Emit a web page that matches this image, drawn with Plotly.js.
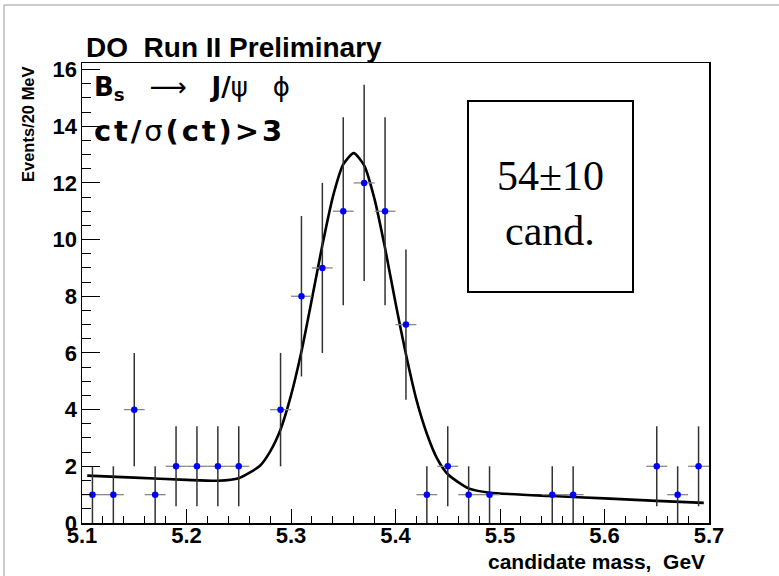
<!DOCTYPE html>
<html>
<head>
<meta charset="utf-8">
<script src="https://cdn.plot.ly/plotly-3.0.1.min.js"></script>
<style>html,body{margin:0;padding:0;background:#fff;}#chart{width:779px;height:576px;}</style>
</head>
<body>
<div id="chart"></div>
<script>
// Data: candidate mass bins (GeV), event counts and their errors
const mass = [5.11,5.13,5.15,5.17,5.19,5.21,5.23,5.25,5.29,5.31,5.33,5.35,5.37,5.39,5.41,5.43,5.45,5.47,5.49,5.55,5.57,5.65,5.67,5.69];
const counts = [1,1,4,1,2,2,2,2,4,8,9,11,12,11,7,1,2,1,1,1,1,2,1,2];
const countErr = [1,1,2,1,1.41,1.41,1.41,1.41,2,2.83,3,3.32,3.46,3.32,2.65,1,1.41,1,1,1,1,1.41,1,1.41];
const binHalfWidth = 0.01;

// Fit curve
const fitX = [5.105,5.15,5.20,5.23,5.25,5.27,5.28,5.29,5.30,5.31,5.32,5.33,5.34,5.35,5.36,5.37,5.38,5.39,5.40,5.41,5.42,5.43,5.44,5.45,5.47,5.49,5.55,5.60,5.65,5.695];
const fitY = [1.67,1.60,1.52,1.49,1.58,2.01,2.52,3.30,4.50,6.05,7.90,9.80,11.50,12.65,13.05,12.62,11.42,9.70,7.77,5.95,4.35,3.15,2.26,1.72,1.22,1.07,0.95,0.87,0.78,0.71];

const yTickVals = [0,2,4,6,8,10,12,14,16];
const xTickVals = [5.1,5.2,5.3,5.4,5.5,5.6,5.7];

const hs = "\u200a";
const titleText = "DO\u00a0\u00a0Run II Preliminary";
const decayText = "<b>B<sub>s</sub></b>\u00a0\u00a0\u00a0\u27f6\u00a0\u00a0\u00a0<b>J/</b>\u03c8\u00a0\u00a0\u00a0\u03d5";
const cutText = "<b>c" + hs + "t" + hs + "/" + hs + "</b>\u03c3<b>" + hs + "(" + hs + "c" + hs + "t" + hs + ")" + hs + "&gt;" + hs + "3</b>";
const yTitleText = "<b>Events/20 MeV</b>";
const xTitleText = "<b>candidate mass,\u00a0\u00a0GeV</b>";
const yieldLine1 = "54\u00b110";
const yieldLine2 = "cand.";

const sansB = "Liberation Sans, Arial, Helvetica, sans-serif";
const wideB = "DejaVu Sans, Liberation Sans, sans-serif";

const traces = [
  {
    x: fitX, y: fitY, type: 'scatter', mode: 'lines',
    line: {color: '#000', width: 2.6, shape: 'spline', smoothing: 0.6},
    hoverinfo: 'skip', showlegend: false
  },
  {
    x: mass, y: counts, type: 'scatter', mode: 'markers',
    marker: {color: '#0000ff', size: 6.5, symbol: 'circle'},
    error_y: {type: 'data', array: countErr, symmetric: true, color: '#333', thickness: 1.5, width: 0},
    error_x: {type: 'constant', value: binHalfWidth, color: '#888', thickness: 1.3, width: 0},
    showlegend: false
  }
];

const layout = {
  width: 779, height: 576,
  margin: {l: 82, r: 70, t: 63, b: 53, pad: 0},
  paper_bgcolor: '#fff', plot_bgcolor: '#fff',
  showlegend: false,
  title: {
    text: "<b>" + titleText + "</b>",
    x: 86/779, xanchor: 'left', xref: 'container',
    y: 1 - 47/576, yanchor: 'middle', yref: 'container',
    font: {family: sansB, size: 28, color: '#000'}
  },
  xaxis: {
    range: [5.1, 5.7], showgrid: false, zeroline: false,
    showline: true, linecolor: '#000', linewidth: 1.5, mirror: true,
    ticks: 'inside', ticklen: 14, tickwidth: 1, tickcolor: '#000',
    tickvals: xTickVals, ticktext: xTickVals.map(v => v.toFixed(1)),
    minor: {dtick: 0.02, tick0: 5.1, ticks: 'inside', ticklen: 7, tickwidth: 1, tickcolor: '#000', showgrid: false},
    tickfont: {family: sansB, size: 22, color: '#000', weight: 'bold'},
    ticklabelstandoff: -8
  },
  yaxis: {
    range: [0, 16.23], showgrid: false, zeroline: false,
    showline: true, linecolor: '#000', linewidth: 1.5, mirror: true,
    ticks: 'inside', ticklen: 18, tickwidth: 1, tickcolor: '#000',
    tickvals: yTickVals, ticktext: yTickVals.map(String),
    minor: {dtick: 0.5, tick0: 0, ticks: 'inside', ticklen: 9, tickwidth: 1, tickcolor: '#000', showgrid: false},
    tickfont: {family: sansB, size: 22, color: '#000', weight: 'bold'},
    ticklabelstandoff: -1
  },
  annotations: [
    {text: decayText, xref: 'paper', yref: 'paper', x: (92-82)/627, y: (523-88)/460,
     xanchor: 'left', yanchor: 'middle', showarrow: false,
     font: {family: wideB, size: 26, color: '#000'}},
    {text: cutText, xref: 'paper', yref: 'paper', x: (92-82)/627, y: (523-131)/460,
     xanchor: 'left', yanchor: 'middle', showarrow: false,
     font: {family: wideB, size: 29, color: '#000'}},
    {text: yTitleText, xref: 'paper', yref: 'paper', x: (28-82)/627, y: (523-124)/460,
     xanchor: 'center', yanchor: 'middle', textangle: -90, showarrow: false,
     font: {family: "Liberation Sans Narrow, Arial Narrow, Liberation Sans, sans-serif", size: 16.5, color: '#000'}},
    {text: xTitleText, xref: 'paper', yref: 'paper', x: (707-82)/627, y: (523-561)/460,
     xanchor: 'right', yanchor: 'middle', showarrow: false,
     font: {family: sansB, size: 21, color: '#000'}},
    {text: yieldLine1, xref: 'paper', yref: 'paper', x: (550-82)/627, y: (523-176)/460,
     xanchor: 'center', yanchor: 'middle', showarrow: false,
     font: {family: "Liberation Serif, Times New Roman, serif", size: 42, color: '#000'}},
    {text: yieldLine2, xref: 'paper', yref: 'paper', x: (550-82)/627, y: (523-231)/460,
     xanchor: 'center', yanchor: 'middle', showarrow: false,
     font: {family: "Liberation Serif, Times New Roman, serif", size: 42, color: '#000'}}
  ],
  shapes: [
    {type: 'rect', xref: 'paper', yref: 'paper',
     x0: (468-82)/627, x1: (633-82)/627, y0: (523-292)/460, y1: (523-101)/460,
     line: {color: '#000', width: 2}, fillcolor: 'rgba(0,0,0,0)'},
    {type: 'line', xref: 'paper', yref: 'paper',
     x0: (4-82)/627, x1: (4-82)/627, y0: (523-576)/460, y1: (523-5)/460,
     line: {color: '#999', width: 1}},
    {type: 'line', xref: 'paper', yref: 'paper',
     x0: (4-82)/627, x1: (779-82)/627, y0: (523-5)/460, y1: (523-5)/460,
     line: {color: '#999', width: 1}}
  ]
};

Plotly.newPlot('chart', traces, layout, {displayModeBar: false, staticPlot: true});
</script>
</body>
</html>
